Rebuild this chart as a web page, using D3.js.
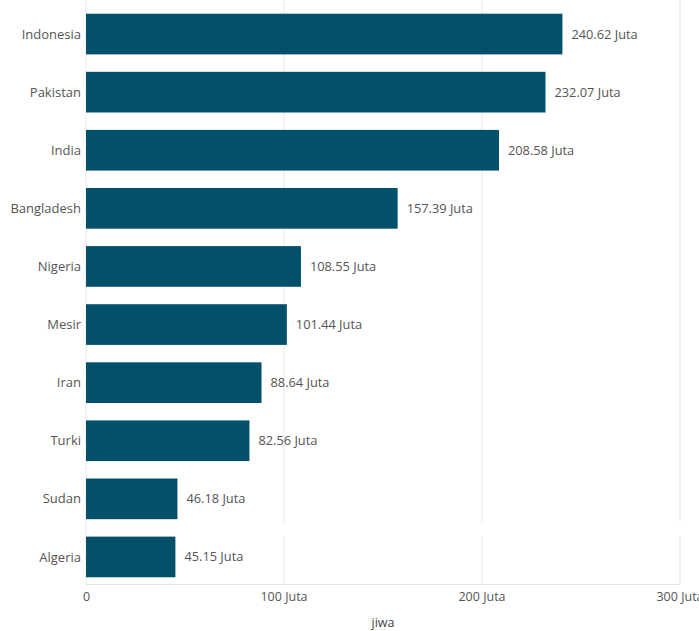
<!DOCTYPE html>
<html><head><meta charset="utf-8">
<script src="https://cdn.jsdelivr.net/npm/d3@7"></script>
<style>body{margin:0;background:#fff}svg{display:block}text{font-family:"Open Sans","Noto Sans",sans-serif}</style>
</head><body><svg id="c" width="699" height="631"></svg>
<script>
const countries = ["Indonesia","Pakistan","India","Bangladesh","Nigeria","Mesir","Iran","Turki","Sudan","Algeria"];
const values = [240.62,232.07,208.58,157.39,108.55,101.44,88.64,82.56,46.18,45.15];
const xTicks = [0,100,200,300];
const xTickLabels = ["0","100 Juta","200 Juta","300 Juta"];
const axisTitle = "jiwa";

const svg = d3.select("#c");
const x = d3.scaleLinear().domain([0,300]).range([86,680]);
const y = d3.scaleBand().domain(countries).range([5,586]).paddingInner(0.3).paddingOuter(0.15);

// gridlines
svg.append("g").selectAll("line").data(xTicks).join("line")
  .attr("x1",d=>x(d)).attr("x2",d=>x(d)).attr("y1",0).attr("y2",584)
  .attr("stroke",d=>d===0?"#e8e8e8":"#e6e6e6").attr("stroke-width",1);
// white gap band seen in reference
svg.append("rect").attr("x",x(0)+1).attr("y",522).attr("width",x(300)-x(0)+2).attr("height",14).attr("fill","#fff");
// axis line
svg.append("line").attr("x1",x(0)).attr("x2",x(300)).attr("y1",584.5).attr("y2",584.5).attr("stroke","#e3e3e3");

svg.append("g").selectAll("rect").data(countries).join("rect")
  .attr("x",x(0)).attr("y",d=>y(d)).attr("width",(d,i)=>x(values[i])-x(0)).attr("height",y.bandwidth())
  .attr("fill","#03506b");

svg.append("g").selectAll("text").data(countries).join("text")
  .attr("x",81).attr("y",d=>y(d)+y.bandwidth()/2).attr("dy","0.35em").attr("text-anchor","end")
  .attr("font-size",13).attr("fill","#555").text(d=>d);

svg.append("g").selectAll("text").data(countries).join("text")
  .attr("x",(d,i)=>x(values[i])+9).attr("y",d=>y(d)+y.bandwidth()/2).attr("dy","0.35em")
  .attr("font-size",12.8).attr("fill","#555").text((d,i)=>values[i].toFixed(2)+" Juta");

svg.append("g").selectAll("text").data(xTicks).join("text")
  .attr("x",d=>x(d)).attr("y",597).attr("dy","0.35em").attr("text-anchor",(d,i)=>i===0?"start":"middle")
  .attr("dx",(d,i)=>i===0?-3:0)
  .attr("font-size",12.5).attr("fill","#555").text((d,i)=>xTickLabels[i]);

svg.append("text").attr("x",383).attr("y",623).attr("dy","0.35em").attr("text-anchor","middle")
  .attr("font-size",12.5).attr("fill","#444").text(axisTitle);
</script></body></html>
